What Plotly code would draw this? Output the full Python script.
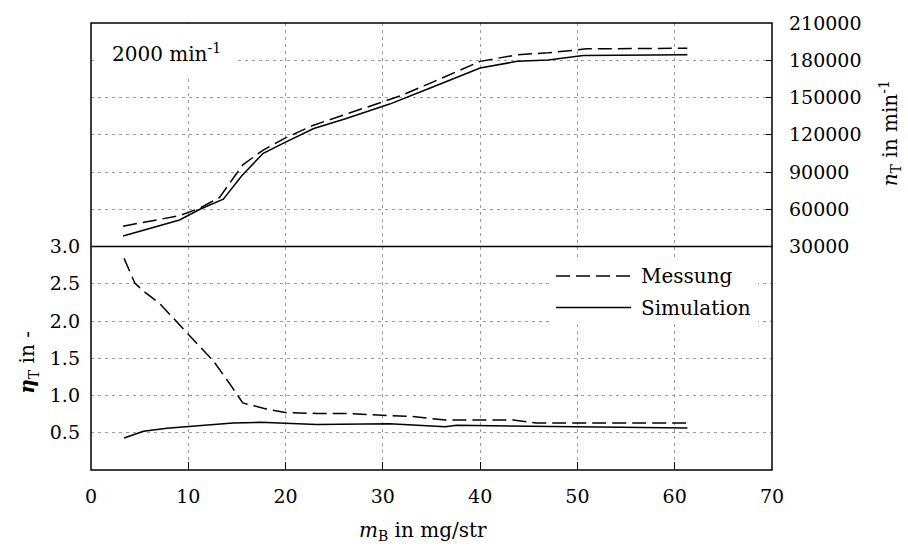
import plotly.graph_objects as go

# Turbine speed over fuel mass (top panel)
x_n_mess = [3.3, 5.5, 9.1, 11.2, 13.2, 15.6, 17.7, 20.0, 22.8, 26.0, 29.7, 31.8, 35.0, 40.0, 43.8, 47.0, 51.0, 55.0, 61.3]
n_mess = [46400, 49500, 54800, 61000, 69400, 95800, 107700, 117500, 127500, 136000, 146000, 151300, 162000, 179100, 184400, 186000, 189200, 189500, 189700]

x_n_sim = [3.3, 6.0, 9.1, 11.2, 13.6, 15.5, 17.7, 20.0, 22.9, 26.0, 30.7, 35.0, 40.0, 43.8, 47.0, 50.6, 55.0, 61.3]
n_sim = [38500, 44500, 51400, 60000, 68100, 87000, 105100, 114000, 125000, 132500, 144700, 158000, 173800, 179100, 180300, 183800, 184200, 184400]

# Turbine efficiency over fuel mass (bottom panel)
x_eta_mess = [3.4, 4.5, 5.4, 7.1, 9.8, 12.6, 14.3, 15.6, 18.0, 20.1, 23.2, 26.0, 30.7, 33.0, 36.4, 43.4, 45.8, 55.0, 61.3]
eta_mess = [2.84, 2.51, 2.40, 2.23, 1.85, 1.46, 1.15, 0.90, 0.82, 0.77, 0.76, 0.76, 0.73, 0.72, 0.67, 0.67, 0.63, 0.63, 0.63]

x_eta_sim = [3.4, 5.4, 7.8, 9.8, 14.6, 17.4, 20.1, 23.2, 30.7, 36.4, 37.6, 49.3, 53.0, 61.3]
eta_sim = [0.43, 0.52, 0.56, 0.58, 0.63, 0.64, 0.63, 0.61, 0.62, 0.58, 0.60, 0.58, 0.575, 0.565]

x_ticks = [0, 10, 20, 30, 40, 50, 60, 70]
eta_ticks = [0.5, 1.0, 1.5, 2.0, 2.5, 3.0]
n_ticks = [30000, 60000, 90000, 120000, 150000, 180000, 210000]

series_names = ["Messung", "Simulation"]
speed_label = "2000 min<sup>-1</sup>"

FONT = "DejaVu Serif"
DASH = "14px,6px"
GRID = dict(showgrid=True, gridcolor="#9c9c9c", griddash="3px,4px", gridwidth=1, zeroline=False)

# plot-area geometry in pixels (for placing decorations)
L, R, T, B = 91, 772, 16, 470
W, H = R - L, B - T


def px(x):
    return (x - L) / W


def py(y):
    return (B - y) / H


fig = go.Figure()

line_m = dict(color="black", width=1.5, dash=DASH)
line_s = dict(color="black", width=1.5)

fig.add_trace(go.Scatter(x=x_n_mess, y=n_mess, mode="lines", line=line_m,
                         xaxis="x2", yaxis="y2", showlegend=False))
fig.add_trace(go.Scatter(x=x_n_sim, y=n_sim, mode="lines", line=line_s,
                         xaxis="x2", yaxis="y2", showlegend=False))
fig.add_trace(go.Scatter(x=x_eta_mess, y=eta_mess, mode="lines", line=line_m,
                         xaxis="x", yaxis="y", showlegend=False))
fig.add_trace(go.Scatter(x=x_eta_sim, y=eta_sim, mode="lines", line=line_s,
                         xaxis="x", yaxis="y", showlegend=False))

tick_font = dict(family=FONT, size=19, color="black")

fig.update_layout(
    width=908, height=554,
    margin=dict(l=L, r=908 - R, t=T, b=554 - B),
    paper_bgcolor="white", plot_bgcolor="white",
    font=dict(family=FONT, color="black"),
    xaxis=dict(domain=[0, 1], anchor="y", range=[0, 70], tickvals=x_ticks,
               ticks="inside", ticklen=8, tickcolor="black", tickwidth=1,
               tickfont=tick_font, ticklabelstandoff=13, showline=False, **GRID),
    xaxis2=dict(domain=[0, 1], anchor="y2", matches="x", range=[0, 70], tickvals=x_ticks,
                showticklabels=False, ticks="", showline=False, **GRID),
    yaxis=dict(domain=[0, 0.5], anchor="x", range=[0, 3], tickvals=eta_ticks,
               tickformat=".1f", ticks="", tickfont=tick_font, ticklabelstandoff=10,
               showline=False, **GRID),
    yaxis2=dict(domain=[0.5, 1], anchor="x2", side="right", range=[30000, 210000],
                tickvals=n_ticks, tickformat="d", ticks="inside", ticklen=6,
                tickcolor="black", tickfont=tick_font, ticklabelstandoff=16,
                showline=False, **GRID),
)

shapes = [
    # white boxes behind the speed label and the legend
    dict(type="rect", xref="paper", yref="paper", x0=px(97), x1=px(234), y0=py(73), y1=py(17),
         fillcolor="white", line=dict(width=0), layer="above"),
    dict(type="rect", xref="paper", yref="paper", x0=px(553), x1=px(758), y0=py(322), y1=py(256),
         fillcolor="white", line=dict(width=0), layer="above"),
    # legend samples
    dict(type="line", xref="paper", yref="paper", x0=px(556), x1=px(631), y0=py(273), y1=py(273),
         line=dict(color="black", width=1.5, dash=DASH), layer="above"),
    dict(type="line", xref="paper", yref="paper", x0=px(556), x1=px(631), y0=py(305), y1=py(305),
         line=dict(color="black", width=1.5), layer="above"),
    # frame and panel divider
    dict(type="rect", xref="paper", yref="paper", x0=0, x1=1, y0=0, y1=1,
         line=dict(color="black", width=1.5), layer="above"),
    dict(type="line", xref="paper", yref="paper", x0=0, x1=1, y0=0.5, y1=0.5,
         line=dict(color="black", width=1.5), layer="above"),
]
fig.update_layout(shapes=shapes)

text_font = dict(family=FONT, size=20, color="black")
annotations = [
    dict(text=speed_label, x=px(110), y=py(46), xanchor="left", yanchor="middle"),
    dict(text=series_names[0], x=px(639), y=py(273), xanchor="left", yanchor="middle"),
    dict(text=series_names[1], x=px(639), y=py(305), xanchor="left", yanchor="middle"),
    dict(text="<i>m</i><sub>B</sub> in mg/str", x=px(423), y=py(532), xanchor="center", yanchor="middle"),
    dict(text="<b><i>η</i></b><sub>T</sub> in -", x=px(28), y=py(361), xanchor="center", yanchor="middle",
         textangle=-90),
    dict(text="<i>n</i><sub>T</sub> in min<sup>-1</sup>", x=px(890), y=py(128), xanchor="center",
         yanchor="middle", textangle=-90),
]
for a in annotations:
    a.update(xref="paper", yref="paper", showarrow=False, font=text_font)
fig.update_layout(annotations=annotations)

fig.write_html("out.html")
